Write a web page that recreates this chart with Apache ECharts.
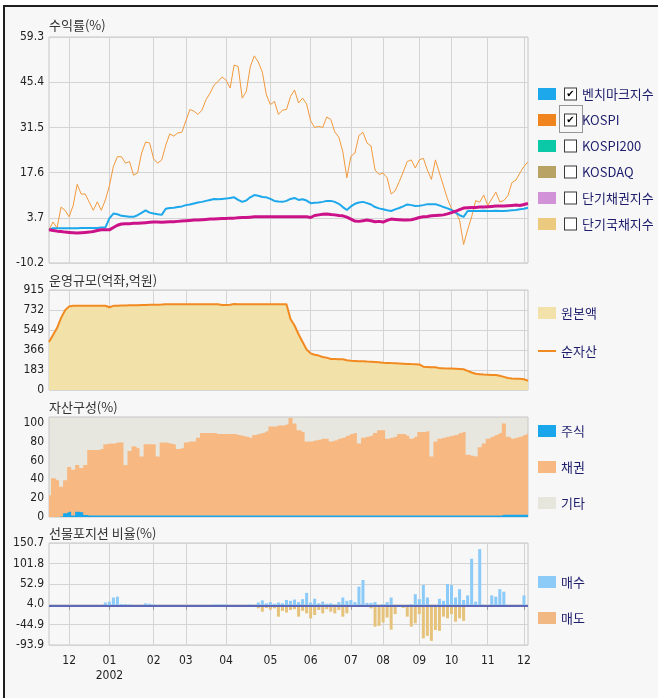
<!DOCTYPE html>
<html>
<head>
<meta charset="utf-8">
<script src="https://cdn.jsdelivr.net/npm/echarts@6/dist/echarts.min.js"></script>
<style>
	html, body { margin: 0; padding: 0; background: #fff; }
	#chart { width: 658px; height: 698px; }
</style>
</head>
<body>
<div id="chart"></div>
<script>
// trading-day slots from mid Nov 2001 to early Dec 2002, month starts marked below
const monthTicks = [5, 15, 26, 34, 44, 55, 65, 75, 83, 92, 100, 109, 118]
const monthLabels = ['12', '01\n2002', '02', '03', '04', '05', '06', '07', '08', '09', '10', '11', '12']

const returnTicks = [-10.2, 3.7, 17.6, 31.5, 45.4, 59.3]
const sizeTicks = [0, 183, 366, 549, 732, 915]
const mixTicks = [0, 20, 40, 60, 80, 100]
const futuresTicks = [-93.9, -44.9, 4.0, 52.9, 101.8, 150.7]

const indexNames = ['벤치마크지수', 'KOSPI', 'KOSPI200', 'KOSDAQ', '단기채권지수', '단기국채지수']
const indexColors = ['#1ea8ec', '#f0841f', '#0bc8a6', '#b9a364', '#d292d8', '#ebc97e']
const checkedNames = ['벤치마크지수', 'KOSPI']

// 수익률(%)
const bench = [
	0.0, 0.5, 0.5, 0.5, 0.5, 0.5, 0.5, 0.5, 0.6, 0.6,
	0.6, 0.6, 0.6, 0.7, 0.7, 3.5, 5.0, 4.8, 4.3, 4.2,
	4.0, 4.0, 4.5, 5.2, 6.0, 5.3, 5.0, 4.8, 4.6, 6.5,
	6.7, 6.8, 7.0, 7.2, 7.6, 7.8, 8.1, 8.4, 8.6, 8.9,
	9.2, 9.5, 9.4, 9.5, 9.6, 9.8, 10.0, 9.2, 8.6, 9.0,
	10.0, 10.7, 10.5, 10.1, 10.0, 9.5, 8.9, 8.7, 8.6, 8.9,
	9.5, 9.8, 9.2, 9.4, 9.0, 8.2, 8.3, 8.4, 8.6, 8.9,
	8.9, 8.6, 8.0, 7.0, 6.1, 7.2, 8.0, 8.4, 8.6, 8.2,
	7.8, 7.0, 6.6, 6.3, 6.0, 5.8, 6.3, 6.7, 7.2, 7.8,
	7.6, 7.3, 7.4, 7.6, 7.9, 7.9, 7.9, 7.5, 7.0, 6.6,
	6.1, 5.3, 4.5, 4.0, 5.8, 5.8, 5.8, 5.8, 5.9, 5.8,
	5.8, 5.9, 5.8, 5.8, 5.9, 6.0, 6.1, 6.3, 6.5, 6.8
]
const kospi = [
	0.0, 2.4, 0.6, 7.0, 6.0, 4.0, 7.5, 14.0, 11.0, 11.0,
	8.5, 6.0, 8.6, 6.0, 9.2, 13.5, 19.5, 22.5, 22.5, 20.5,
	21.0, 16.8, 17.5, 23.6, 27.0, 26.7, 21.8, 20.5, 21.5, 26.0,
	29.5, 28.8, 29.8, 30.0, 33.5, 37.0, 36.5, 35.5, 36.8, 40.0,
	42.0, 44.5, 45.6, 47.0, 46.0, 43.6, 50.7, 50.2, 40.5, 42.5,
	50.1, 53.5, 51.6, 48.5, 41.5, 38.5, 39.5, 35.5, 36.8, 37.0,
	41.0, 43.0, 39.0, 40.5, 38.7, 33.5, 31.5, 31.8, 31.5, 34.7,
	34.0, 30.1, 28.5, 24.0, 16.0, 22.6, 23.6, 29.0, 30.0, 26.7,
	25.8, 18.4, 17.0, 17.5, 16.0, 11.0, 12.0, 14.8, 17.8, 21.0,
	21.5, 19.0, 21.5, 22.0, 18.4, 15.5, 21.5, 17.5, 13.5, 9.5,
	6.5, 5.5, 3.0, -4.5, 0.0, 4.0, 9.0, 8.5, 10.7, 7.5,
	9.5, 11.6, 8.6, 9.0, 10.5, 14.5, 15.3, 17.5, 19.5, 20.9
]
const fund = [
	0.0, -0.2, -0.4, -0.5, -0.7, -0.8, -0.9, -1.0, -0.9, -0.8,
	-0.7, -0.5, -0.2, 0.0, 0.0, 0.0, 0.7, 1.4, 1.8, 1.9,
	1.9, 2.0, 2.0, 2.1, 2.2, 2.3, 2.4, 2.4, 2.3, 2.4,
	2.5, 2.5, 2.6, 2.7, 2.8, 2.9, 3.0, 3.0, 3.1, 3.2,
	3.3, 3.3, 3.4, 3.5, 3.5, 3.6, 3.6, 3.7, 3.8, 3.8,
	3.9, 4.0, 4.0, 4.0, 4.0, 4.0, 4.0, 4.0, 4.0, 4.0,
	4.0, 4.0, 4.0, 4.0, 4.0, 3.8, 4.4, 4.6, 4.8, 4.9,
	4.7, 4.6, 4.4, 4.3, 3.9, 3.3, 2.7, 2.6, 2.8, 3.0,
	2.8, 2.5, 2.6, 2.4, 2.9, 3.3, 3.2, 3.1, 3.0, 3.0,
	3.1, 3.4, 3.8, 4.0, 4.1, 4.3, 4.4, 4.5, 4.6, 4.9,
	5.3, 5.7, 6.2, 6.7, 6.8, 6.9, 6.9, 7.0, 7.0, 7.1,
	7.2, 7.3, 7.3, 7.3, 7.4, 7.5, 7.6, 7.5, 7.8, 8.1
]

// 운영규모(억좌,억원)
const netAssets = [
	439, 503, 567, 660, 730, 765, 771, 771, 771, 771,
	771, 771, 771, 771, 771, 757, 770, 772, 773, 774,
	775, 775, 776, 777, 778, 779, 780, 781, 782, 784,
	784, 784, 784, 784, 784, 784, 784, 784, 784, 784,
	784, 784, 784, 777, 777, 780, 787, 784, 784, 784,
	784, 784, 784, 784, 784, 784, 784, 784, 784, 784,
	650, 590, 510, 440, 370, 335, 322, 315, 302, 296,
	284, 283, 282, 281, 272, 268, 266, 264, 262, 260,
	259, 256, 253, 250, 248, 246, 245, 243, 241, 239,
	237, 236, 234, 213, 211, 209, 208, 200, 198, 197,
	196, 195, 193, 190, 175, 160, 148, 145, 142, 140,
	138, 137, 130, 120, 110, 106, 104, 102, 98, 85
]
const principal = netAssets

// 자산구성(%)
const stocks = [
	0, 0, 0, 0.5, 4, 5.5, 1.5, 5.5, 5, 2,
	1.5, 1.5, 1.5, 1.5, 1.5, 1.5, 1.5, 1.5, 1.5, 1.5,
	1.5, 1.5, 1.5, 1.5, 1.5, 1.5, 1.5, 1.5, 1.5, 1.5,
	1.5, 1.5, 1.5, 1.5, 1.5, 1.5, 1.5, 1.5, 1.5, 1.5,
	1.5, 1.5, 1.5, 1.5, 1.5, 1.5, 1.5, 1.5, 1.5, 1.5,
	1.5, 1.5, 1.5, 1.5, 1.5, 1.5, 1.5, 1.5, 1.5, 1.5,
	1.5, 1.5, 1.5, 1.5, 1.5, 1.5, 1.5, 1.5, 1.5, 1.5,
	1.5, 1.5, 1.5, 1.5, 1.5, 1.5, 1.5, 1.5, 1.5, 1.5,
	1.5, 1.5, 1.5, 1.5, 1.5, 1.5, 1.5, 1.5, 1.5, 1.5,
	1.5, 1.5, 1.5, 1.5, 1.5, 1.5, 1.5, 1.5, 1.5, 1.5,
	1.5, 1.5, 1.5, 1.5, 1.5, 1.5, 1.5, 1.5, 1.5, 1.5,
	1.5, 1.5, 1.5, 2.5, 2.5, 2.5, 2.5, 2.5, 2.5, 2.5
]
const bonds = [
	23, 41, 39, 32, 39, 53, 50, 55, 52, 55,
	71, 71, 71, 72, 77, 78, 78, 79, 79, 55,
	70, 75, 73, 64, 77, 77, 77, 64, 79, 79,
	78, 77, 72, 73, 79, 80, 80, 84, 89, 89,
	89, 89, 88, 88, 88, 88, 88, 87, 86, 85,
	84, 87, 88, 89, 91, 96, 96, 97, 97, 98,
	105, 99, 92, 90, 80, 80, 81, 82, 83, 83,
	80, 81, 83, 84, 86, 88, 89, 78, 84, 85,
	86, 89, 92, 92, 83, 84, 85, 88, 88, 86,
	83, 85, 90, 90, 91, 64, 80, 83, 84, 85,
	86, 87, 89, 90, 66, 65, 64, 74, 78, 83,
	85, 87, 89, 99, 85, 83, 84, 85, 87, 89
]

// 선물포지션 비율(%)
const buy = [
	0, 0, 0, 0, 0, 0, 0, 0, 0, 0,
	0, 0, 0, 0, 8, 10, 20, 22, 4, 4,
	3, 0, 0, 0, 6, 5, 3, 0, 0, 0,
	0, 0, 0, 0, 0, 0, 0, 0, 0, 0,
	0, 3, 3, 3, 3, 2, 0, 0, 0, 0,
	3, 2, 8, 13, 6, 9, 5, 8, 6, 14,
	12, 15, 9, 16, 31, 8, 17, 6, 10, 5,
	6, 3, 9, 20, 12, 14, 9, 46, 62, 7,
	7, 9, 0, 4, 9, 20, 0, 0, 0, 0,
	4, 28, 16, 50, 20, 0, 0, 17, 12, 52,
	50, 20, 40, 14, 25, 113, 10, 136, 0, 0,
	25, 22, 40, 34, 0, 0, 0, 0, 25, 0
]
const sell = [
	0, 0, 0, 0, 0, 0, 0, 0, 0, 0,
	0, 0, 0, 0, 0, 0, 0, 0, 0, 0,
	0, 0, 0, 0, 0, 0, 0, 0, 0, 0,
	0, 0, 0, 0, 0, 0, 0, 0, 0, 0,
	0, 0, 0, 0, 0, 0, 0, 0, 0, 0,
	0, 0, -6, -14, -5, -9, -6, -26, -12, -16,
	-10, -8, -26, -12, -18, -30, -22, -10, -18, -8,
	-14, -18, -10, -26, -18, 0, 0, 0, 0, 0,
	-6, -50, -48, -40, -28, -57, -20, 0, -5, -26,
	-50, -42, -20, -78, -72, -84, -58, -60, -26, -30,
	-20, -38, -30, -36, 0, 0, 0, 0, 0, 0,
	-3, 0, 0, 0, 0, 0, 0, 0, 0, 0
]

const days = bench.map((v, i) => String(i))
const isMonth = (idx) => monthTicks.indexOf(idx) >= 0

const gridColor = '#d4d4d4'
const labelFont = { fontFamily: 'DejaVu Sans Condensed', fontSize: 12, color: '#222' }
const legendText = { color: '#1d1d6c', fontSize: 13, fontFamily: 'Noto Sans CJK KR', lineHeight: 14 }

const grids = [
	{ left: 49, top: 37, width: 479, height: 226 },
	{ left: 49, top: 290, width: 479, height: 100 },
	{ left: 49, top: 417, width: 479, height: 100, backgroundColor: '#e7e7df' },
	{ left: 49, top: 543, width: 479, height: 102 }
].map(g => Object.assign({ show: true, borderColor: '#c6c6c6', borderWidth: 1 }, g))

const xAxes = grids.map((g, i) => ({
	type: 'category',
	gridIndex: i,
	data: days,
	boundaryGap: false,
	axisLine: { show: false },
	axisTick: { show: i === 3, interval: isMonth, length: 4, lineStyle: { color: '#999' } },
	axisLabel: {
		show: i === 3,
		interval: isMonth,
		margin: 8,
		lineHeight: 15,
		...labelFont,
		formatter: (v, idx) => monthLabels[monthTicks.indexOf(idx)] || ''
	},
	splitLine: { show: i !== 2, interval: isMonth, lineStyle: { color: gridColor } }
}))

function yAxis(i, min, max, ticks, digits, split) {
	return {
		type: 'value',
		gridIndex: i,
		min: min,
		max: max,
		axisLine: { show: false },
		axisTick: { show: false, customValues: ticks },
		axisLabel: {
			customValues: ticks,
			margin: 5,
			...labelFont,
			formatter: v => v.toFixed(digits)
		},
		splitLine: { show: split, lineStyle: { color: gridColor } }
	}
}

const titleStyle = { fontSize: 13, fontWeight: 'normal', color: '#333', fontFamily: 'Noto Sans CJK KR' }

const chart = echarts.init(document.getElementById('chart'))
chart.setOption({
	animation: false,
	backgroundColor: '#fff',
	graphic: [
		{
			type: 'rect',
			z: -100,
			silent: true,
			shape: { x: 4, y: 6, width: 700, height: 700 },
			style: { fill: '#f7f7f7', stroke: '#1e1e1e', lineWidth: 2 }
		},
		{
			// focus outline round the KOSPI checkbox
			type: 'rect',
			z: 100,
			silent: true,
			shape: { x: 559.5, y: 105.5, width: 23, height: 27 },
			style: { fill: 'none', stroke: '#333', lineWidth: 1, lineDash: [1, 1] }
		}
	],
	title: [
		{ text: '수익률(%)', left: 49, top: 19, padding: 0, textStyle: titleStyle },
		{ text: '운영규모(억좌,억원)', left: 49, top: 274, padding: 0, textStyle: titleStyle },
		{ text: '자산구성(%)', left: 49, top: 401, padding: 0, textStyle: titleStyle },
		{ text: '선물포지션 비율(%)', left: 49, top: 527, padding: 0, textStyle: titleStyle }
	],
	legend: [
		{
			data: indexNames,
			orient: 'vertical',
			left: 538,
			top: 87,
			icon: 'rect',
			itemWidth: 18,
			itemHeight: 12,
			itemGap: 12,
			padding: 0,
			textStyle: {
				...legendText,
				rich: {
					sp: { width: 4 },
					box: {
						width: 11, height: 11, lineHeight: 11, align: 'center',
						borderColor: '#3a3a3a', borderWidth: 1, backgroundColor: '#fff',
						fontFamily: 'DejaVu Sans', fontSize: 10, fontWeight: 'bold', color: '#000'
					},
					sp2: { width: 6 }
				}
			},
			formatter: name => {
				const mark = checkedNames.indexOf(name) >= 0 ? '✔' : ' '
				return '{sp| }{box|' + mark + '}{sp2| }' + name
			}
		},
		{
			data: [
				{ name: '원본액', icon: 'rect' },
				{ name: '순자산', icon: 'path://M0,0H18V2H0Z' }
			],
			orient: 'vertical',
			left: 538,
			top: 306,
			itemWidth: 18,
			itemHeight: 12,
			itemGap: 24,
			padding: 0,
			textStyle: legendText
		},
		{
			data: ['주식', '채권', '기타'],
			orient: 'vertical',
			left: 538,
			top: 424,
			icon: 'rect',
			itemWidth: 18,
			itemHeight: 12,
			itemGap: 22,
			padding: 0,
			textStyle: legendText
		},
		{
			data: [
				{ name: '매수' },
				{ name: '매도', itemStyle: { color: '#f2b884' } }
			],
			orient: 'vertical',
			left: 538,
			top: 575,
			icon: 'rect',
			itemWidth: 18,
			itemHeight: 12,
			itemGap: 22,
			padding: 0,
			textStyle: legendText
		}
	],
	grid: grids,
	xAxis: xAxes,
	yAxis: [
		yAxis(0, -10.2, 59.3, returnTicks, 1, true),
		yAxis(1, 0, 915, sizeTicks, 0, true),
		yAxis(2, 0, 106, mixTicks, 0, false),
		yAxis(3, -93.9, 150.7, futuresTicks, 1, true)
	],
	series: [
		{ name: indexNames[0], type: 'line', data: bench, symbol: 'none', color: indexColors[0], lineStyle: { width: 2 }, z: 3 },
		{ name: indexNames[1], type: 'line', data: kospi, symbol: 'none', color: indexColors[1], lineStyle: { width: 1, color: '#f39a3c' }, z: 2 },
		{ name: indexNames[2], type: 'line', data: [], color: indexColors[2] },
		{ name: indexNames[3], type: 'line', data: [], color: indexColors[3] },
		{ name: indexNames[4], type: 'line', data: [], color: indexColors[4] },
		{ name: indexNames[5], type: 'line', data: [], color: indexColors[5] },
		{ name: '펀드', type: 'line', data: fund, symbol: 'none', color: '#cc1289', lineStyle: { width: 3 }, z: 4 },

		{
			name: '원본액', type: 'line', xAxisIndex: 1, yAxisIndex: 1, data: principal, symbol: 'none',
			color: '#f2e1a8', lineStyle: { width: 0 }, areaStyle: { color: '#f2e1a8', opacity: 1 }
		},
		{
			name: '순자산', type: 'line', xAxisIndex: 1, yAxisIndex: 1, data: netAssets, symbol: 'none',
			color: '#f28a22', lineStyle: { width: 2 }
		},

		{
			name: '채권', type: 'line', xAxisIndex: 2, yAxisIndex: 2, data: bonds, symbol: 'none', step: 'middle',
			color: '#f7b882', lineStyle: { width: 0 }, areaStyle: { color: '#f7b882', opacity: 1 }
		},
		{
			name: '주식', type: 'line', xAxisIndex: 2, yAxisIndex: 2, data: stocks, symbol: 'none', step: 'middle',
			color: '#19a6ea', lineStyle: { width: 0 }, areaStyle: { color: '#19a6ea', opacity: 1 }
		},
		{ name: '기타', type: 'line', xAxisIndex: 2, yAxisIndex: 2, data: [], color: '#e6e6dc' },

		{
			name: '매수', type: 'bar', xAxisIndex: 3, yAxisIndex: 3, data: buy, barWidth: 3, barGap: '-100%',
			color: '#8ccaf8',
			markLine: {
				silent: true, symbol: 'none', label: { show: false },
				lineStyle: { color: '#5d68b8', width: 2, type: 'solid' },
				data: [{ yAxis: 0 }]
			}
		},
		{ name: '매도', type: 'bar', xAxisIndex: 3, yAxisIndex: 3, data: sell, barWidth: 3, barGap: '-100%', color: '#e6c37c' }
	]
})
</script>
</body>
</html>
